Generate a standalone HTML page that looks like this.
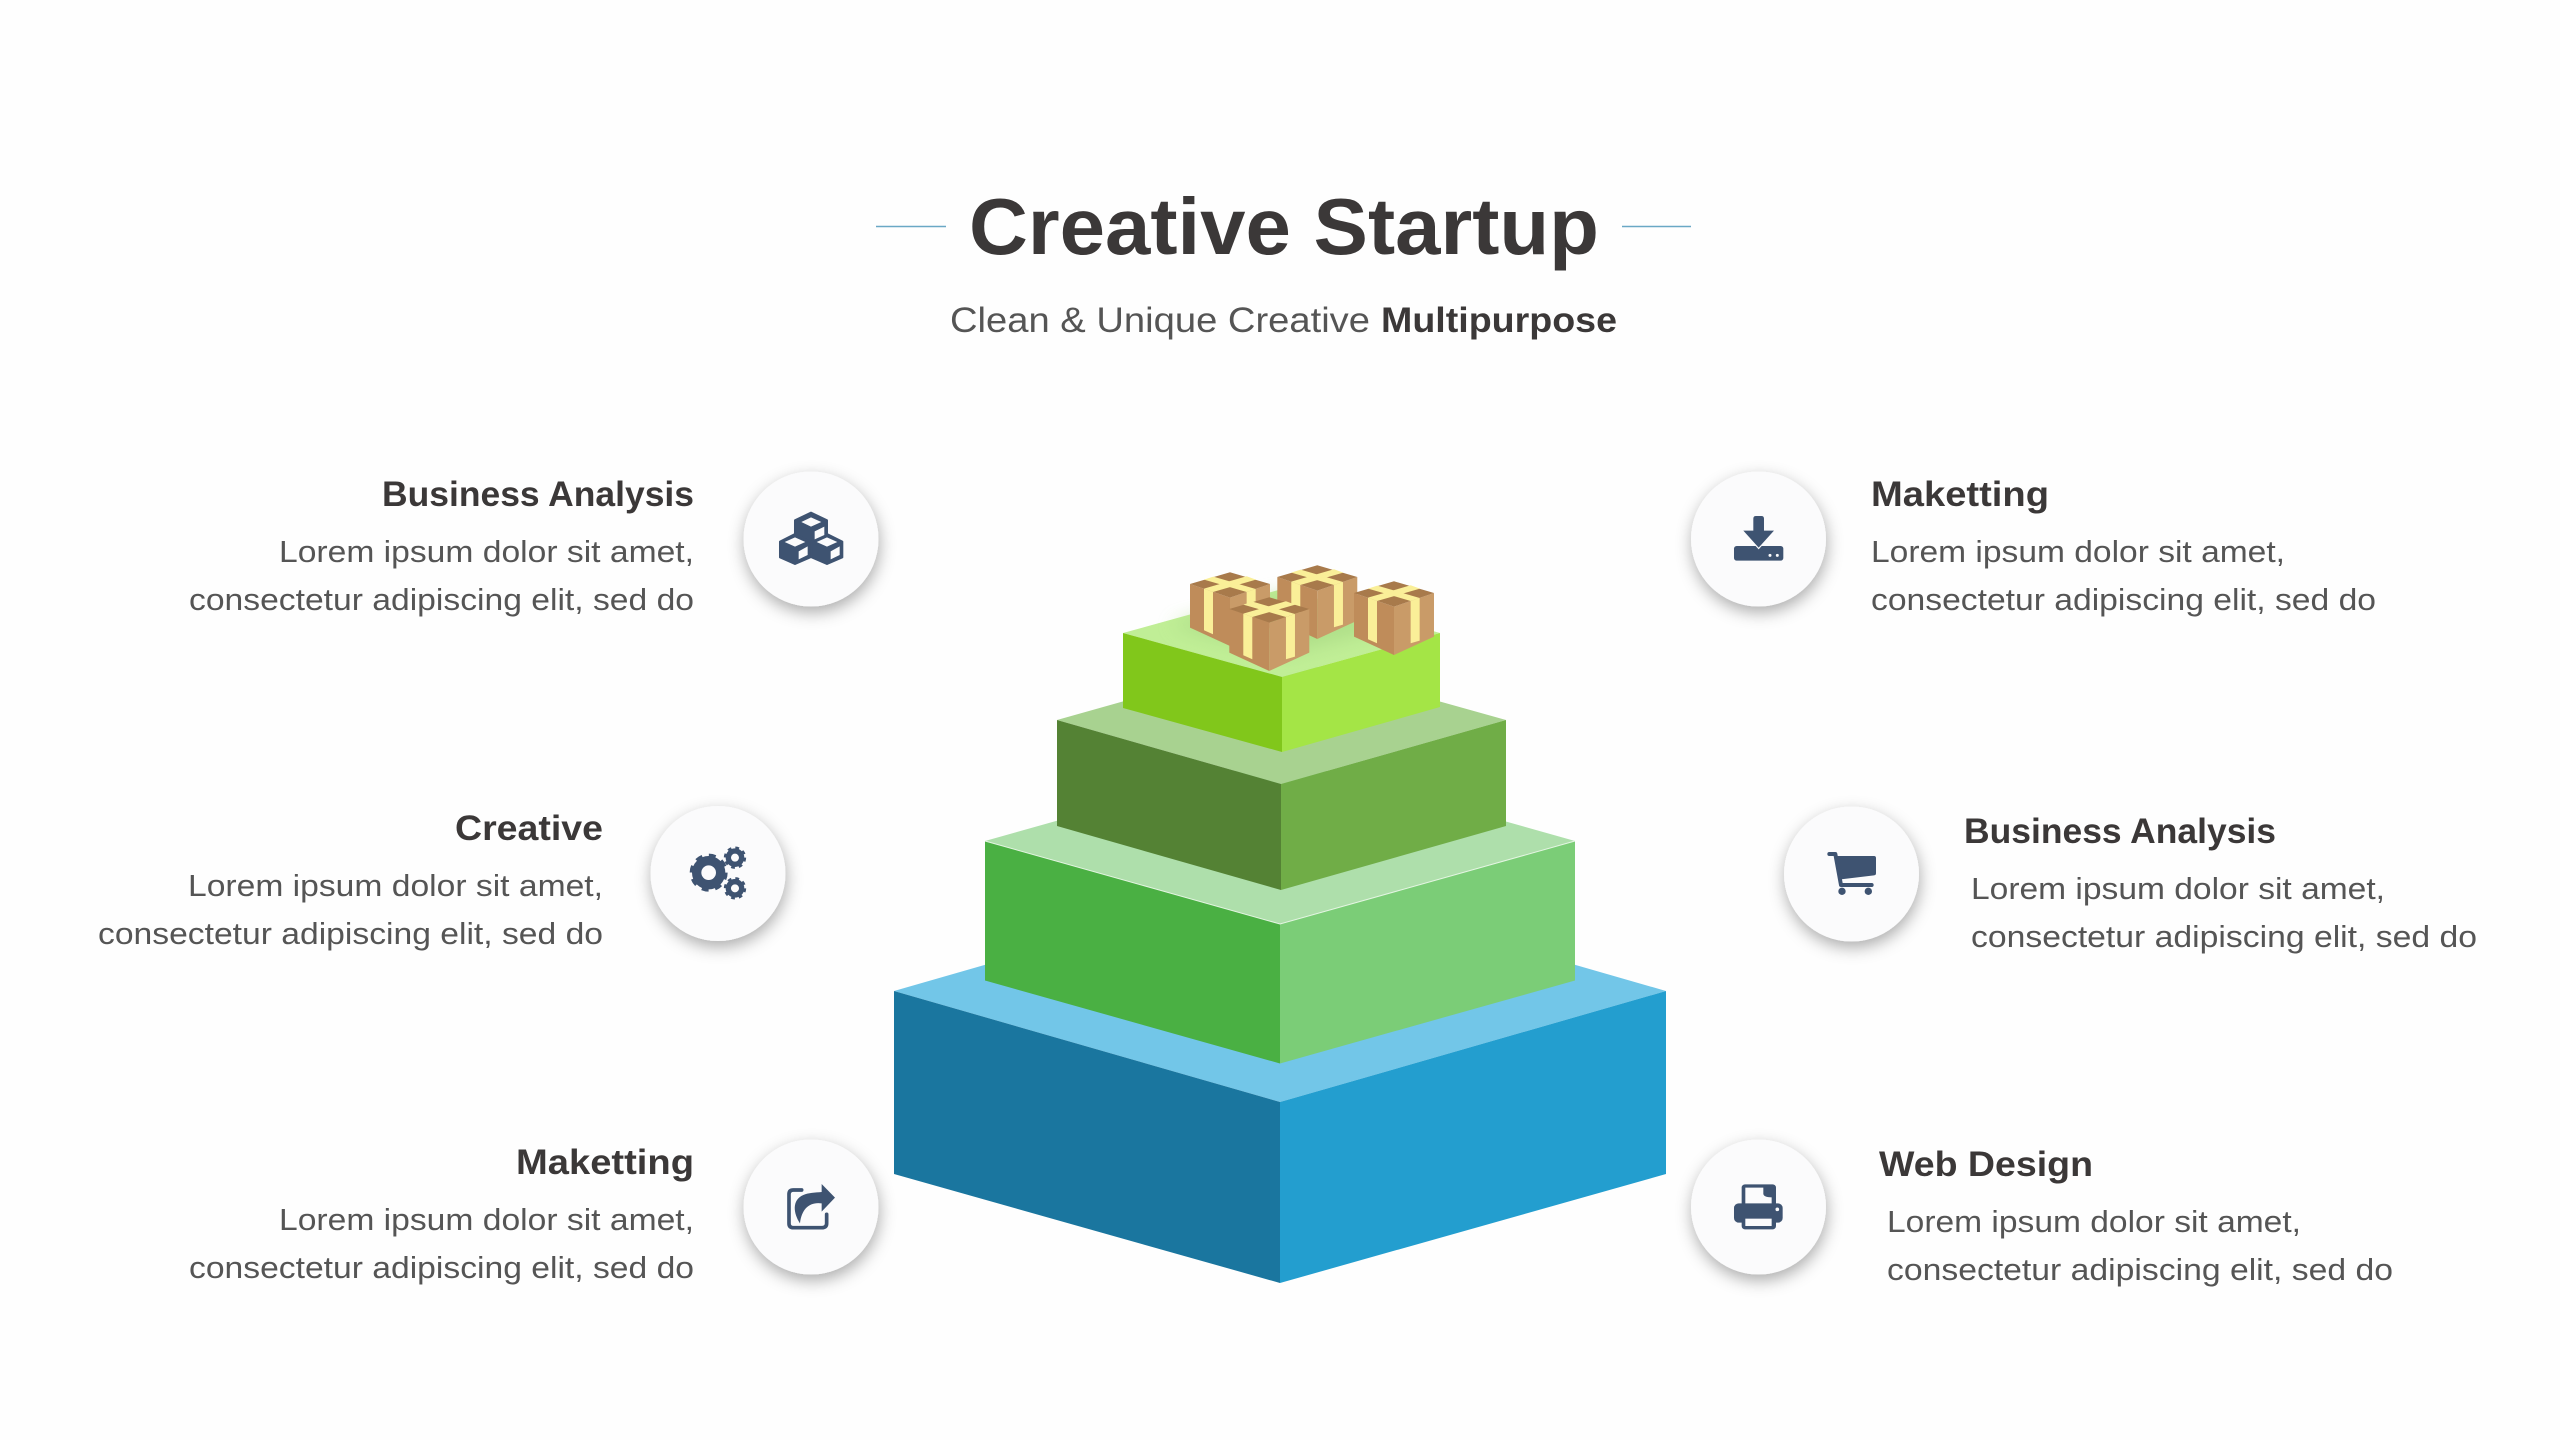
<!DOCTYPE html>
<html lang="en">
<head>
<meta charset="utf-8">
<title>Creative Startup</title>
<style>
html,body{margin:0;padding:0;background:#fefefe;width:2560px;height:1440px;overflow:hidden}
svg{display:block}
text{font-family:"Liberation Sans",sans-serif;fill:#3b3838}
.h{font-size:35px;font-weight:700}
.b{font-size:31px;fill:#555}
</style>
</head>
<body>
<svg xmlns="http://www.w3.org/2000/svg" width="2560" height="1440" viewBox="0 0 2560 1440">
<defs>
<filter id="sh" x="-40%" y="-40%" width="180%" height="180%"><feDropShadow dx="1" dy="6" stdDeviation="8" flood-color="#000" flood-opacity=".32"/></filter>
<filter id="bl" x="-30%" y="-30%" width="160%" height="160%"><feGaussianBlur stdDeviation="9"/></filter>
<g id="box">
<polygon points="0,35 120,76 120,221 0,166" fill="#bf8c5a"/>
<polygon points="120,76 240,35 240,166 120,221" fill="#c99b68"/>
<polygon points="120,0 0,35 120,76 240,35" fill="#a87a4b"/>
<polygon points="42,49 69,59 198,22 170,12" fill="#faef98"/>
<polygon points="170,59 197,50 70,13 42,22" fill="#faef98"/>
<polygon points="42,49 69,59 69,186 42,174" fill="#faef98"/>
<polygon points="170,59 197,50 197,178 170,186" fill="#faef98"/>
</g>
</defs>
<rect width="2560" height="1440" fill="#fefefe"/>

<!-- header -->
<line x1="876" y1="226.5" x2="946" y2="226.5" stroke="#6aa8c5" stroke-width="1.6"/>
<line x1="1622" y1="226.5" x2="1691" y2="226.5" stroke="#6aa8c5" stroke-width="1.6"/>
<text x="969" y="254" font-size="80" font-weight="700" textLength="630" lengthAdjust="spacingAndGlyphs">Creative Startup</text>
<text x="950" y="332" font-size="35" style="fill:#555" textLength="420" lengthAdjust="spacingAndGlyphs">Clean &amp; Unique Creative</text>
<text x="1381" y="332" font-size="35" font-weight="700" textLength="236" lengthAdjust="spacingAndGlyphs">Multipurpose</text>

<!-- pyramid: blue -->
<polygon points="894,991 1280,880 1666,991 1280,1102" fill="#72c6e8"/>
<polygon points="894,991 1280,1102 1280,1283 894,1174" fill="#1a769f"/>
<polygon points="1280,1102 1666,991 1666,1174 1280,1283" fill="#239ecf"/>
<!-- light green -->
<polygon points="985,841 1280,758 1575,841 1280,924" fill="#aedfab"/>
<polygon points="985,841 1280,924 1280,1063.5 985,980.5" fill="#4ab043"/>
<polygon points="1280,924 1575,841 1575,980.5 1280,1063.5" fill="#7bcd77"/>
<polyline points="985,841 1280,924 1575,841" fill="none" stroke="#e4f5e2" stroke-width="1"/>
<!-- olive -->
<polygon points="1057,720 1281,657 1506,720 1281,784" fill="#a8d290"/>
<polygon points="1057,720 1281,784 1281,890 1057,826" fill="#548234"/>
<polygon points="1281,784 1506,720 1506,826 1281,890" fill="#70ad47"/>
<!-- lime -->
<polygon points="1123,633 1282,589 1440,633 1282,677" fill="#c0ee96"/>
<polygon points="1170,625 1282,594 1395,625 1282,655" fill="#a6d682" filter="url(#bl)" opacity=".65"/>
<polygon points="1123,633 1282,677 1282,752 1123,708" fill="#81c71b"/>
<polygon points="1282,677 1440,633 1440,707 1282,752" fill="#a4e546"/>
<!-- boxes -->
<use href="#box" transform="translate(1190,572.3) scale(.3333)"/>
<use href="#box" transform="translate(1277.3,565.3) scale(.3333)"/>
<use href="#box" transform="translate(1354,581.3) scale(.3333)"/>
<use href="#box" transform="translate(1229.3,597.3) scale(.3333)"/>

<!-- circles -->
<g fill="#fbfbfc" filter="url(#sh)">
<circle cx="811" cy="539" r="67.5"/>
<circle cx="718" cy="873.5" r="67.5"/>
<circle cx="811" cy="1207" r="67.5"/>
<circle cx="1758.5" cy="539" r="67.5"/>
<circle cx="1851.5" cy="874" r="67.5"/>
<circle cx="1758.5" cy="1207" r="67.5"/>
</g>

<!-- cubes icon -->
<g transform="translate(700,440) scale(.3333)" fill="#3e5371" stroke="#3e5371" stroke-width="6" stroke-linejoin="round">
<polygon points="333,218 381,241 381,296 333,318 285,296 285,241"/>
<polygon points="285,282 331,305 331,352 285,372 240,352 240,305"/>
<polygon points="381,282 427,305 427,352 381,372 335,352 335,305"/>
<g fill="#fbfbfc" stroke="none">
<polygon points="333,232 364,246 333,260 304,246"/>
<polygon points="344,274 373,260 373,285 344,298"/>
<polygon points="285,292 316,306 285,320 254,306"/>
<polygon points="296,334 323,319 323,345 296,358"/>
<polygon points="381,292 412,306 381,320 350,306"/>
<polygon points="392,334 419,319 419,345 392,358"/>
</g>
</g>

<!-- gears icon -->
<g transform="translate(620,780) scale(.3333)" fill="none" stroke="#3e5371">
<circle cx="266" cy="278" r="36" stroke-width="28"/>
<circle cx="266" cy="278" r="50" stroke-width="14" stroke-dasharray="20 19.3"/>
<circle cx="345" cy="233" r="20" stroke-width="16"/>
<circle cx="345" cy="233" r="29" stroke-width="9" stroke-dasharray="11 11.8"/>
<circle cx="345" cy="325" r="20" stroke-width="16"/>
<circle cx="345" cy="325" r="29" stroke-width="9" stroke-dasharray="11 11.8"/>
</g>

<!-- share icon -->
<g transform="translate(700,1120) scale(.3333)">
<path d="M305 210H280Q267 210 267 223V310Q267 323 280 323H365Q380 323 380 310V283" fill="none" stroke="#3e5371" stroke-width="11" stroke-linecap="round"/>
<path d="M365 192L405 233L365 275V250C330 245 305 265 300 310C280 280 275 240 310 225C325 218 345 218 365 216Z" fill="#3e5371"/>
</g>

<!-- download icon -->
<g transform="translate(1660,440) scale(.3333)">
<rect x="222" y="318" width="148" height="44" rx="8" fill="#3e5371"/>
<path d="M250 272H280V236Q280 228 288 228H304Q312 228 312 236V272H342L296 323Z" fill="#3e5371" stroke="#fbfbfc" stroke-width="7" paint-order="stroke"/>
<circle cx="330" cy="346" r="4.5" fill="#fbfbfc"/>
<circle cx="352" cy="346" r="4.5" fill="#fbfbfc"/>
</g>

<!-- cart icon -->
<g transform="translate(1750,780) scale(.3333)">
<path d="M238 222H256L273 315H365" fill="none" stroke="#3e5371" stroke-width="12" stroke-linecap="round" stroke-linejoin="round"/>
<path d="M262 228H372Q378 228 378 234V280Q378 285 372 286L272 298Z" fill="#3e5371"/>
<circle cx="276" cy="334" r="11" fill="#3e5371"/>
<circle cx="355" cy="334" r="11" fill="#3e5371"/>
</g>

<!-- printer icon -->
<g transform="translate(1660,1120) scale(.3333)">
<rect x="245" y="193" width="103" height="135" rx="10" fill="#3e5371"/>
<rect x="222" y="250" width="146" height="58" rx="14" fill="#3e5371"/>
<path d="M256 203H310V222Q312 232 335 232V250H256Z" fill="#fbfbfc"/>
<rect x="256" y="296" width="79" height="22" fill="#fbfbfc"/>
<circle cx="352" cy="268" r="5.5" fill="#fbfbfc"/>
</g>

<!-- left text -->
<text class="h" x="382" y="506" textLength="312" lengthAdjust="spacingAndGlyphs">Business Analysis</text>
<text class="b" x="279" y="562" textLength="415" lengthAdjust="spacingAndGlyphs">Lorem ipsum dolor sit amet,</text>
<text class="b" x="189" y="610" textLength="505" lengthAdjust="spacingAndGlyphs">consectetur adipiscing elit, sed do</text>

<text class="h" x="455" y="840" textLength="148" lengthAdjust="spacingAndGlyphs">Creative</text>
<text class="b" x="188" y="896" textLength="415" lengthAdjust="spacingAndGlyphs">Lorem ipsum dolor sit amet,</text>
<text class="b" x="98" y="944" textLength="505" lengthAdjust="spacingAndGlyphs">consectetur adipiscing elit, sed do</text>

<text class="h" x="516" y="1174" textLength="178" lengthAdjust="spacingAndGlyphs">Maketting</text>
<text class="b" x="279" y="1230" textLength="415" lengthAdjust="spacingAndGlyphs">Lorem ipsum dolor sit amet,</text>
<text class="b" x="189" y="1278" textLength="505" lengthAdjust="spacingAndGlyphs">consectetur adipiscing elit, sed do</text>

<!-- right text -->
<text class="h" x="1871" y="506" textLength="178" lengthAdjust="spacingAndGlyphs">Maketting</text>
<text class="b" x="1871" y="562" textLength="414" lengthAdjust="spacingAndGlyphs">Lorem ipsum dolor sit amet,</text>
<text class="b" x="1871" y="610" textLength="505" lengthAdjust="spacingAndGlyphs">consectetur adipiscing elit, sed do</text>

<text class="h" x="1964" y="843" textLength="312" lengthAdjust="spacingAndGlyphs">Business Analysis</text>
<text class="b" x="1971" y="899" textLength="414" lengthAdjust="spacingAndGlyphs">Lorem ipsum dolor sit amet,</text>
<text class="b" x="1971" y="947" textLength="506" lengthAdjust="spacingAndGlyphs">consectetur adipiscing elit, sed do</text>

<text class="h" x="1879" y="1176" textLength="214" lengthAdjust="spacingAndGlyphs">Web Design</text>
<text class="b" x="1887" y="1232" textLength="414" lengthAdjust="spacingAndGlyphs">Lorem ipsum dolor sit amet,</text>
<text class="b" x="1887" y="1280" textLength="506" lengthAdjust="spacingAndGlyphs">consectetur adipiscing elit, sed do</text>
</svg>
</body>
</html>
